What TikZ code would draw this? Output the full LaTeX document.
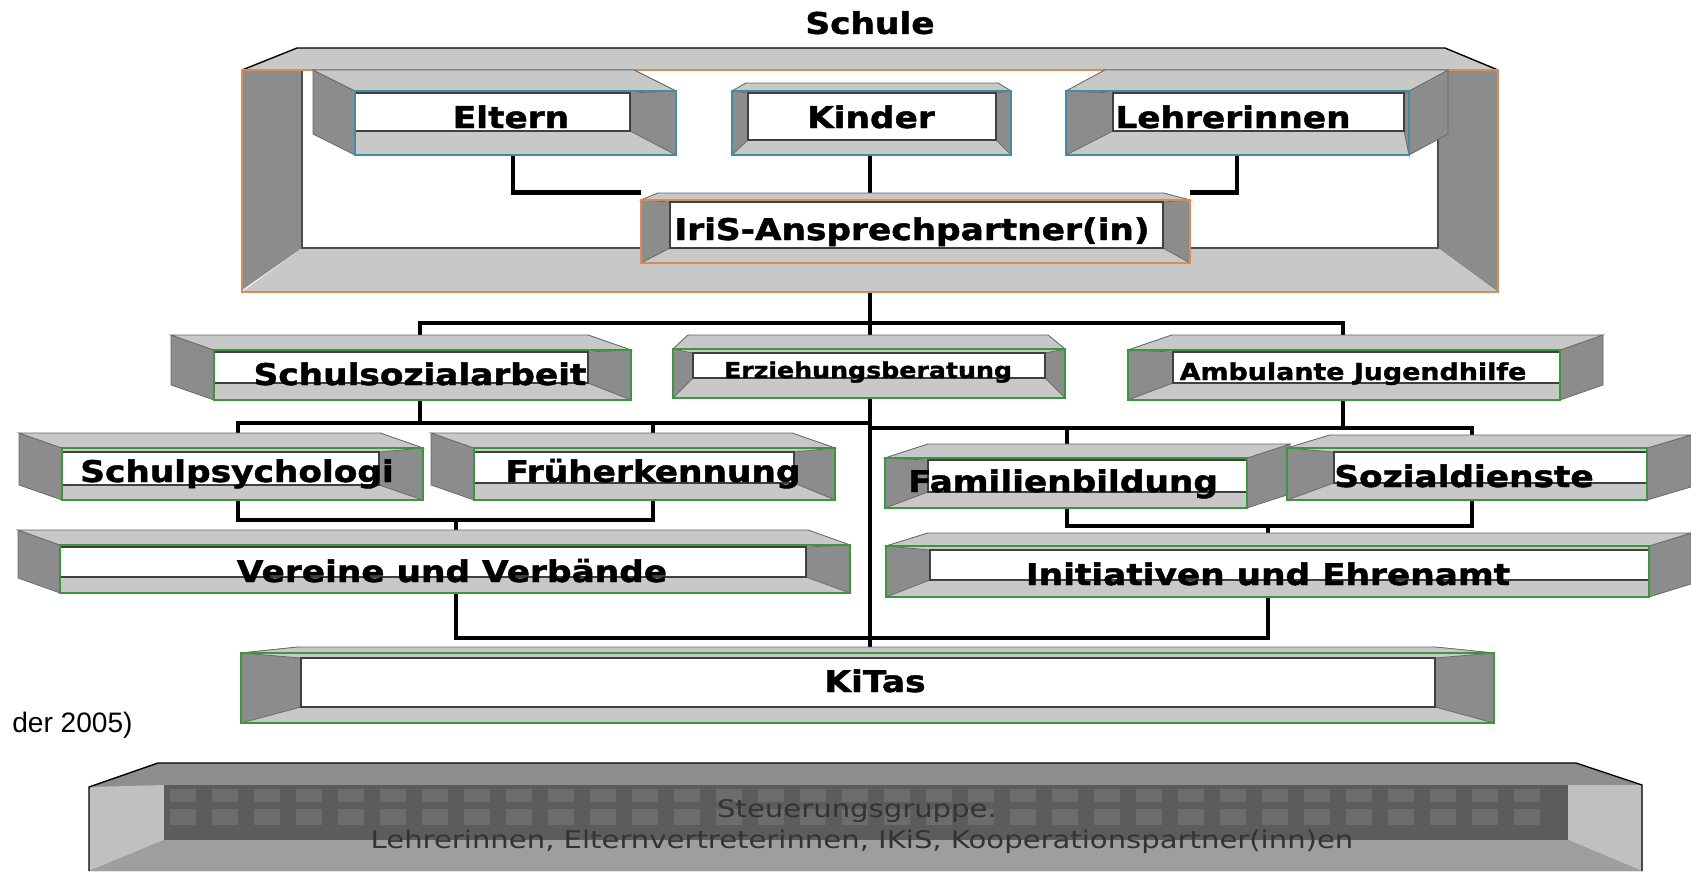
\documentclass[tikz,border=0pt]{standalone}
\usepackage{fontspec}
\setmainfont{DejaVu Sans}
\newfontfamily\lblfont{DejaVu Sans Bold}[FakeStretch=1.15, FakeBold=1.5]
\newfontfamily\steufont{DejaVu Sans}[FakeStretch=1.2]
\newfontfamily\notefont{Liberation Sans}
\usetikzlibrary{positioning,calc,fit,backgrounds}
\definecolor{facelight}{RGB}{200,200,200}
\definecolor{facedark}{RGB}{140,140,140}
\definecolor{rimteal}{RGB}{70,140,160}
\definecolor{rimorange}{RGB}{215,140,90}
\definecolor{rimgreen}{RGB}{60,150,60}
\definecolor{steutop}{RGB}{142,142,142}
\definecolor{steuside}{RGB}{192,192,192}
\definecolor{steuinner}{RGB}{92,92,92}
\definecolor{steubottom}{RGB}{158,158,158}
\tikzset{
  lightface/.style={fill=facelight, draw=black!60, line width=0.4pt},
  darkface/.style={fill=facedark, draw=black!60, line width=0.4pt},
  whiteface/.style={fill=white, draw=black!75, line width=0.8pt},
  rim/.style={draw=rimgreen, line width=0.9pt},
  link/.style={draw=black, line width=2.6pt},
  lbl/.style={font=\lblfont\fontsize{17}{17}\selectfont, inner sep=0pt, anchor=base},
  title/.style={font=\lblfont\fontsize{17}{17}\selectfont, inner sep=0pt},
  steu/.style={font=\steufont\fontsize{13.8}{13.8}\selectfont, text=black!80, inner sep=0pt, anchor=base},
  note/.style={font=\notefont\fontsize{16}{16}\selectfont, inner sep=0pt}
}
% #1 name, #2/#3 front face, #4/#5 white field, #6/#7 back top corners, #8 text base, #9 text
\newcommand{\bevbox}[9]{%
  \coordinate (#1-a) at #2;
  \coordinate (#1-b) at #3;
  \coordinate (#1-c) at #4;
  \coordinate (#1-d) at #5;
  \coordinate (#1-p) at #6;
  \coordinate (#1-q) at #7;
  \coordinate (#1-h) at ($(#1-a |- #1-b)-(#1-a)$);
  \path[darkface] (#1-a) -- (#1-p) -- ($(#1-p)+(#1-h)$) -- (#1-a |- #1-b) -- cycle;
  \path[darkface] (#1-a -| #1-b) -- (#1-q) -- ($(#1-q)+(#1-h)$) -- (#1-b) -- cycle;
  \path[lightface] (#1-a) -- (#1-p) -- (#1-q) -- (#1-a -| #1-b) -- cycle;
  \path[lightface] (#1-a) rectangle (#1-b);
  \path[darkface] (#1-a) -- (#1-c) -- (#1-c |- #1-d) -- (#1-a |- #1-b) -- cycle;
  \path[darkface] (#1-a -| #1-b) -- (#1-c -| #1-d) -- (#1-d) -- (#1-b) -- cycle;
  \path[whiteface] (#1-c) rectangle (#1-d);
  \path[rim] (#1-a) rectangle (#1-b);
  \node[fit=(#1-p)(#1-q)(#1-a)(#1-b), inner sep=0pt] (#1) {};
  \node[lbl] (#1-t) at #8 {#9};
}

\begin{document}
\begin{tikzpicture}[x=0.2mm, y=-0.2mm]
  \useasboundingbox (0,0) rectangle (1691,871);

  % Schule frame
  \path[lightface, draw=none] (297,48) -- (1445,48) -- (1498,70) -- (242,70) -- cycle;
  \path[darkface, draw=none] (242,70) -- (302,70) -- (302,248) -- (242,290) -- cycle;
  \path[darkface, draw=none] (1498,70) -- (1498,292) -- (1438,248) -- (1438,70) -- cycle;
  \path[lightface, draw=none] (242,292) -- (302,248) -- (1438,248) -- (1498,292) -- cycle;
  \draw[black, line width=0.8pt] (242,70) -- (297,48) -- (1445,48) -- (1498,70);
  \draw[black!70, line width=0.6pt] (302,70) -- (302,248) -- (1438,248) -- (1438,137);
  \draw[rimorange, line width=1pt] (242,70) rectangle (1498,292);
  \node[fit={(242,48) (1498,292)}, inner sep=0pt] (schule) {};
  \node[title, above=2.6mm of schule] (schule-t) {Schule};

  \begin{scope}[rim/.style={draw=rimteal, line width=0.9pt}]
    \bevbox{eltern}{(355,91)}{(676,155)}{(355,93)}{(630,131)}{(313,70)}{(634,70)}{(511,128)}{Eltern}
    \bevbox{kinder}{(732,91)}{(1011,155)}{(748,93)}{(996,140)}{(746,83)}{(998,83)}{(871,128)}{Kinder}
    \bevbox{lehrer}{(1066,91)}{(1409,155)}{(1113,93)}{(1404,131)}{(1105,70)}{(1448,70)}{(1233,128)}{Lehrerinnen}
  \end{scope}
  \begin{scope}[rim/.style={draw=rimorange, line width=1.2pt}]
    \bevbox{iris}{(641,200)}{(1190,263)}{(670,202)}{(1163,248)}{(658,193)}{(1163,193)}{(912,240)}{IriS-Ansprechpartner(in)}
  \end{scope}

  % partners
  \bevbox{ssa}{(214,350)}{(631,400)}{(214,352)}{(588,383)}{(171,335)}{(588,335)}{(420,385)}{Schulsozialarbeit}
  \bevbox{erz}{(673,349)}{(1065,398)}{(693,353)}{(1045,378)}{(688,335)}{(1048,335)}{(868,378)}{\fontsize{12.5}{12.5}\selectfont Erziehungsberatung}
  \bevbox{amb}{(1128,350)}{(1560,400)}{(1173,352)}{(1560,383)}{(1172,335)}{(1603,335)}{(1353,380)}{\fontsize{13.3}{13.3}\selectfont Ambulante Jugendhilfe}
  \bevbox{psy}{(62,448)}{(423,500)}{(62,452)}{(379,485)}{(19,433)}{(380,433)}{(237,482)}{Schulpsychologi}
  \bevbox{fru}{(474,448)}{(835,500)}{(474,452)}{(794,483)}{(431,433)}{(792,433)}{(653,482)}{Früherkennung}
  \bevbox{fam}{(885,458)}{(1247,508)}{(928,460)}{(1247,492)}{(928,444)}{(1290,444)}{(1063,492)}{Familienbildung}
  \bevbox{soz}{(1287,448)}{(1647,500)}{(1334,452)}{(1647,483)}{(1330,435)}{(1691,435)}{(1464,487)}{Sozialdienste}
  \bevbox{ver}{(60,545)}{(850,593)}{(60,547)}{(806,577)}{(18,530)}{(808,530)}{(452,582)}{Vereine und Verbände}
  \bevbox{ini}{(886,546)}{(1649,597)}{(930,550)}{(1649,580)}{(928,533)}{(1691,533)}{(1268,585)}{Initiativen und Ehrenamt}
  \bevbox{kitas}{(241,653)}{(1494,723)}{(301,658)}{(1435,707)}{(298,647)}{(1435,647)}{(875,692)}{KiTas}

  \node[note, anchor=base east] (quelle) at (133,732) {der 2005)};

  % Steuerungsgruppe
  \fill[steutop] (89,787) -- (158,763) -- (1576,763) -- (1642,785) -- (1642,871) -- (89,871) -- cycle;
  \fill[steuside] (89,787) -- (164,785) -- (164,840) -- (89,871) -- cycle;
  \fill[steuside] (1642,785) -- (1568,785) -- (1568,840) -- (1642,871) -- cycle;
  \fill[steubottom] (89,871) -- (164,840) -- (1568,840) -- (1642,871) -- cycle;
  \fill[steuinner] (164,785) rectangle (1568,840);
  \foreach \i in {0,...,32}{
    \fill[steuinner!90!white] (170+\i*42,789) rectangle ++(26,13);
    \fill[steuinner!90!white] (170+\i*42,809) rectangle ++(26,16);
  }
  \draw[black, line width=0.8pt] (89,871) -- (89,787) -- (158,763) -- (1576,763) -- (1642,785) -- (1642,871);
  \node[steu] (steu-kopf) at (857,817) {Steuerungsgruppe.};
  \node[steu] (steu-mitglieder) at (862,848) {Lehrerinnen, Elternvertreterinnen, IKiS, Kooperationspartner(inn)en};

  % connectors
  \begin{scope}[on background layer]
    \fill[white] (0,0) rectangle (1691,871);
    \coordinate (c-elt) at (513,0);
    \coordinate (c-kin) at (870,0);
    \coordinate (c-leh) at (1237,0);
    \coordinate (c-ssa) at (420,0);
    \coordinate (c-amb) at (1343,0);
    \coordinate (c-psy) at (238,0);
    \coordinate (c-fru) at (653,0);
    \coordinate (c-fam) at (1067,0);
    \coordinate (c-soz) at (1472,0);
    \coordinate (c-ver) at (456,0);
    \coordinate (c-ini) at (1268,0);
    \coordinate (bus-a) at (870,323);
    \coordinate (bus-bl) at (870,423);
    \coordinate (bus-br) at (870,428);
    \coordinate (bus-cl) at (456,520);
    \coordinate (bus-cr) at (1268,526);
    \coordinate (bus-d) at (870,638);
    \draw[link] (eltern.south -| c-elt) |- (iris.north west);
    \draw[link] (lehrer.south -| c-leh) |- (iris.north east);
    \draw[link] (schule.south) -- (kitas.north -| schule.south);
    \draw[link] (ssa.north -| c-ssa) |- (bus-a) -| (amb.north -| c-amb);
    \draw[link] (psy.north -| c-psy) |- (bus-bl);
    \draw[link] (bus-br) -| (amb.south -| c-amb);
    \draw[link] (bus-br -| c-amb) -| (soz.north -| c-soz);
    \draw[link] (psy.south -| c-psy) |- (bus-cl) -| (fru.south -| c-fru);
    \draw[link] (fam.south -| c-fam) |- (bus-cr) -| (soz.south -| c-soz);
    \draw[link] (ver.south -| c-ver) |- (bus-d) -| (ini.south -| c-ini);
    \foreach \a/\col/\b in {kinder.south/c-kin/iris.north, ssa.south/c-ssa/bus-bl,
        fru.north/c-fru/bus-bl, fam.north/c-fam/bus-br, ver.north/c-ver/bus-cl, ini.north/c-ini/bus-cr}
      {\draw[link] (\a -| \col) -- (\b -| \col);}
  \end{scope}
\end{tikzpicture}
\end{document}
